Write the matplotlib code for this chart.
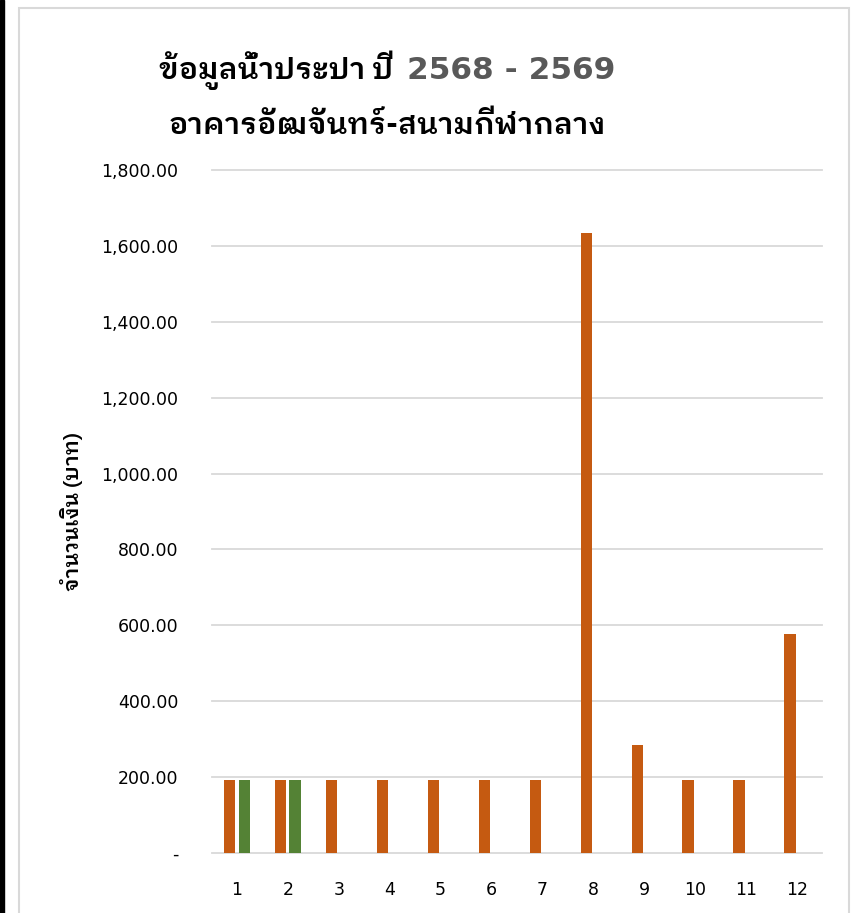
import numpy as np
import matplotlib
matplotlib.use("Agg")
import matplotlib.pyplot as plt
from matplotlib.patches import Rectangle

# data
months = [1, 2, 3, 4, 5, 6, 7, 8, 9, 10, 11, 12]
y2568 = [192.5, 192.5, 192.5, 192.5, 192.5, 192.5, 192.5, 1635, 285, 192.5, 192.5, 577]
y2569 = [192.5, 192.5, np.nan, np.nan, np.nan, np.nan, np.nan, np.nan, np.nan, np.nan, np.nan, np.nan]
y_ticks = [0, 200, 400, 600, 800, 1000, 1200, 1400, 1600, 1800]

title_a = "ข้อมูลน้ำประปา ปี "
title_b = "2568 - 2569"
title_2 = "อาคารอัฒจันทร์-สนามกีฬากลาง"
ylabel = "จำนวนเงิน (บาท)"

thai = ["IBM Plex Sans Thai Looped", "Noto Sans Thai Looped", "DejaVu Sans"]
plt.rcParams["font.family"] = ["DejaVu Sans"]

fig = plt.figure(figsize=(8.54, 9.13), dpi=100)
ax = fig.add_axes([0.2477, 0.0657, 0.7154, 0.7481])

x = np.array(months)
ax.bar(x - 0.14, y2568, width=0.22, color="#C55A11", zorder=3)
ax.bar(x + 0.14, y2569, width=0.22, color="#548235", zorder=3)

ax.set_xlim(0.5, 12.5)
ax.set_ylim(0, 1800)
ax.set_xticks(months)
ax.set_xticklabels([str(m) for m in months], fontsize=12.5)
ax.set_yticks(y_ticks)
ax.set_yticklabels(["-" if v == 0 else "{:,.2f}".format(v) for v in y_ticks], fontsize=12.5)
ax.tick_params(axis="y", length=0, pad=24)
ax.tick_params(axis="x", length=0, pad=20)
ax.grid(axis="y", color="#D9D9D9", linewidth=1.3, zorder=0)
for line in ax.get_ygridlines():
    line.set_clip_on(False)
for s in ax.spines.values():
    s.set_visible(False)

ax.set_ylabel(ylabel, family=thai, fontsize=15, fontweight=600, labelpad=13)

# title in two colours
fig.canvas.draw()
r = fig.canvas.get_renderer()
ta = fig.text(0, 0, title_a, family=thai, fontsize=21.5, fontweight=600, color="black")
tb = fig.text(0, 0, title_b, family="DejaVu Sans", fontsize=22.5, fontweight="bold", color="#595959")
gap = 7
wa = ta.get_window_extent(r).width + gap
wb = tb.get_window_extent(r).width
left = 387 - (wa + wb) / 2
ta.set_position((left / 854, 1 - 79 / 913))
tb.set_position(((left + wa) / 854, 1 - 79 / 913))
ta.set_va("baseline")
tb.set_va("baseline")
fig.text(387 / 854, 1 - 134 / 913, title_2, family=thai, fontsize=21.5, fontweight=600,
         ha="center", va="baseline")

# chart frame and left dark strip
fig.patches.append(Rectangle((19 / 854, -0.05), 830 / 854, 1.05 - 8 / 913, transform=fig.transFigure,
                             fill=False, edgecolor="#D9D9D9", linewidth=1.5))
fig.patches.append(Rectangle((0, 0), 4 / 854, 1, transform=fig.transFigure, color="black"))

fig.savefig("out.png", dpi=100)
